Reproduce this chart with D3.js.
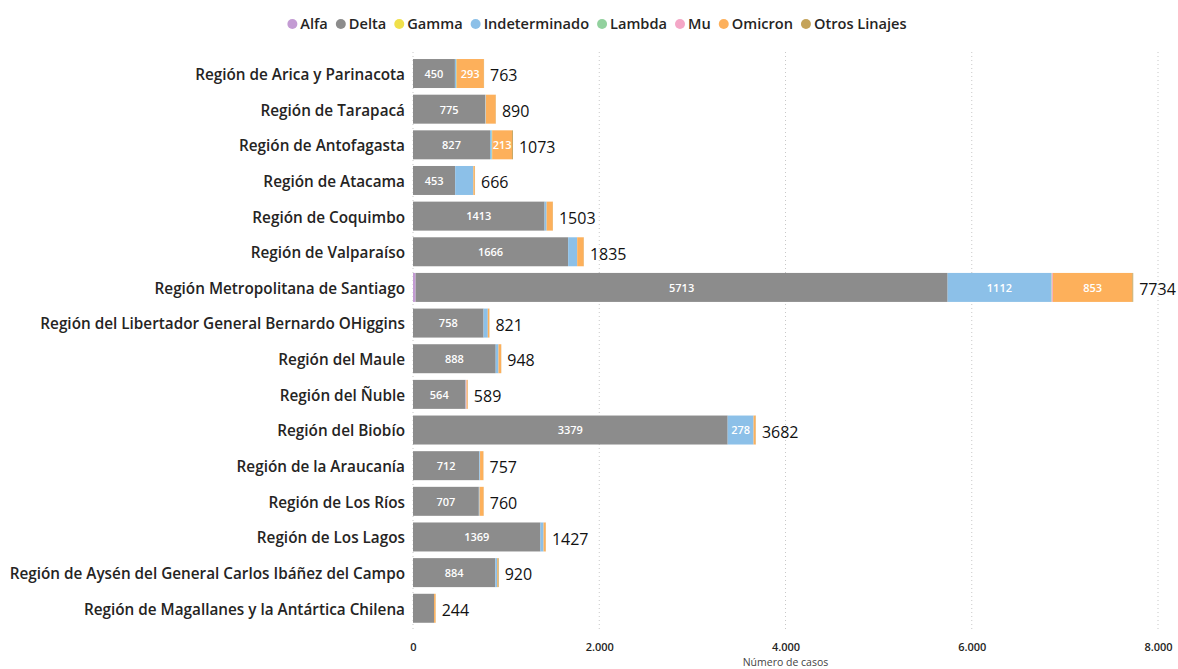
<!DOCTYPE html>
<html><head><meta charset="utf-8">
<script src="https://cdn.jsdelivr.net/npm/d3@7"></script>
<style>
body{margin:0;background:#fff;}
svg text{font-family:"Open Sans","Noto Sans",sans-serif;}
</style></head>
<body><svg id="chart" width="1178" height="669"></svg>
<script>
const categories = [
 "Región de Arica y Parinacota","Región de Tarapacá","Región de Antofagasta","Región de Atacama",
 "Región de Coquimbo","Región de Valparaíso","Región Metropolitana de Santiago",
 "Región del Libertador General Bernardo OHiggins","Región del Maule","Región del Ñuble",
 "Región del Biobío","Región de la Araucanía","Región de Los Ríos","Región de Los Lagos",
 "Región de Aysén del General Carlos Ibáñez del Campo","Región de Magallanes y la Antártica Chilena"];
const seriesNames = ["Alfa","Delta","Gamma","Indeterminado","Lambda","Mu","Omicron","Otros Linajes"];
const alfa          = [0,0,0,0,0,0,28,0,0,0,0,0,0,0,0,0];
const delta         = [450,775,827,453,1413,1666,5713,758,888,564,3379,712,707,1369,884,226];
const gamma         = [0,0,0,0,0,0,0,0,0,0,0,0,0,0,0,0];
const indeterminado = [12,6,18,195,22,97,1112,45,30,3,278,8,8,33,18,0];
const lambda        = [6,0,5,0,0,0,6,0,0,0,0,0,0,0,0,0];
const mu            = [0,0,0,0,0,0,12,0,0,8,0,0,0,0,0,0];
const omicron       = [293,107,213,16,66,70,853,16,28,12,22,35,43,23,8,16];
const otros         = [2,2,10,2,2,2,10,2,2,2,3,2,2,2,10,2];
const xTicks = [0,2000,4000,6000,8000];
const labelSkip = ["Región de Magallanes y la Antártica Chilena"];
const colors = ["#C39BD3","#8C8C8C","#F0E04A","#8CC0E8","#92D19E","#F4A7C7","#FDB05B","#C4A35A"];

const seriesValues = [alfa,delta,gamma,indeterminado,lambda,mu,omicron,otros];
const rows = categories.map((c,i)=>{const r={cat:c}; seriesNames.forEach((s,j)=>r[s]=seriesValues[j][i]); return r;});
const stack = d3.stack().keys(seriesNames)(rows);

const svg = d3.select("#chart");
const x = d3.scaleLinear().domain([0,8000]).range([413,1158]);
const y = d3.scaleBand().domain(categories).range([55.7,626.1]).paddingInner(0.187).paddingOuter(0.0935);
const color = d3.scaleOrdinal().domain(seriesNames).range(colors);
const loc = d3.formatLocale({decimal:",",thousands:".",grouping:[3],currency:["",""]});
const fmt = loc.format(",");

// gridlines
svg.append("g").selectAll("line").data(xTicks).join("line")
 .attr("x1",d=>x(d)).attr("x2",d=>x(d)).attr("y1",52).attr("y2",630)
 .attr("stroke","#c8c8c8").attr("stroke-width",1).attr("stroke-dasharray","1,3");

// bars
const g = svg.append("g");
stack.forEach(layer=>{
  g.append("g").attr("fill",color(layer.key)).selectAll("rect").data(layer).join("rect")
   .attr("x",d=>x(d[0])).attr("width",d=>Math.max(0,x(d[1])-x(d[0])))
   .attr("y",d=>y(d.data.cat)).attr("height",y.bandwidth());
});
// inner labels
stack.forEach(layer=>{
  layer.forEach(d=>{
    const w = x(d[1])-x(d[0]); const v = d[1]-d[0];
    if (w >= 19 && !labelSkip.includes(d.data.cat)) {
      svg.append("text").attr("x",(x(d[0])+x(d[1]))/2).attr("y",y(d.data.cat)+y.bandwidth()/2+0.5)
        .attr("dy","0.35em").attr("text-anchor","middle").attr("fill","#fff")
        .attr("font-size",11).attr("font-weight",600).text(v);
    }
  });
});
// totals
const last = stack[stack.length-1];
last.forEach(d=>{
  svg.append("text").attr("x",x(d[1])+6).attr("y",y(d.data.cat)+y.bandwidth()/2+2)
   .attr("dy","0.36em").attr("font-size",16).attr("fill","#111").text(d[1]);
});

// y axis labels
const yAxis = d3.axisLeft(y).tickSize(0).tickPadding(8);
const ya = svg.append("g").attr("transform","translate(413,1.5)").call(yAxis);
ya.select(".domain").remove();
ya.selectAll("text").attr("font-size",15.3).attr("font-weight",600).attr("fill","#252423")
  .style("font-family",'"Open Sans","Noto Sans",sans-serif');

// x axis
const xAxis = d3.axisBottom(x).tickValues(xTicks).tickFormat(fmt).tickSize(0).tickPadding(0);
const xa = svg.append("g").attr("transform","translate(0,643)").call(xAxis);
xa.select(".domain").remove();
xa.selectAll("text").attr("font-size",11).attr("font-weight",600).attr("fill","#252423")
  .style("font-family",'"Open Sans","Noto Sans",sans-serif');
svg.append("text").attr("x",x(4000)).attr("y",666).attr("text-anchor","middle")
  .attr("font-size",10.5).attr("fill","#444").text("Número de casos");

// legend
const leg = svg.append("g");
let cx = 0;
seriesNames.forEach(s=>{
  const it = leg.append("g");
  it.append("circle").attr("cx",cx+5).attr("cy",0).attr("r",5).attr("fill",color(s));
  const t = it.append("text").attr("x",cx+13).attr("y",0).attr("dy","0.35em")
    .attr("font-size",14.6).attr("font-weight",600).attr("fill","#252423").text(s);
  cx += 13 + t.node().getComputedTextLength() + 8;
});
const legW = cx - 8;
leg.attr("transform",`translate(${597 - legW/2},24)`);
</script></body></html>
